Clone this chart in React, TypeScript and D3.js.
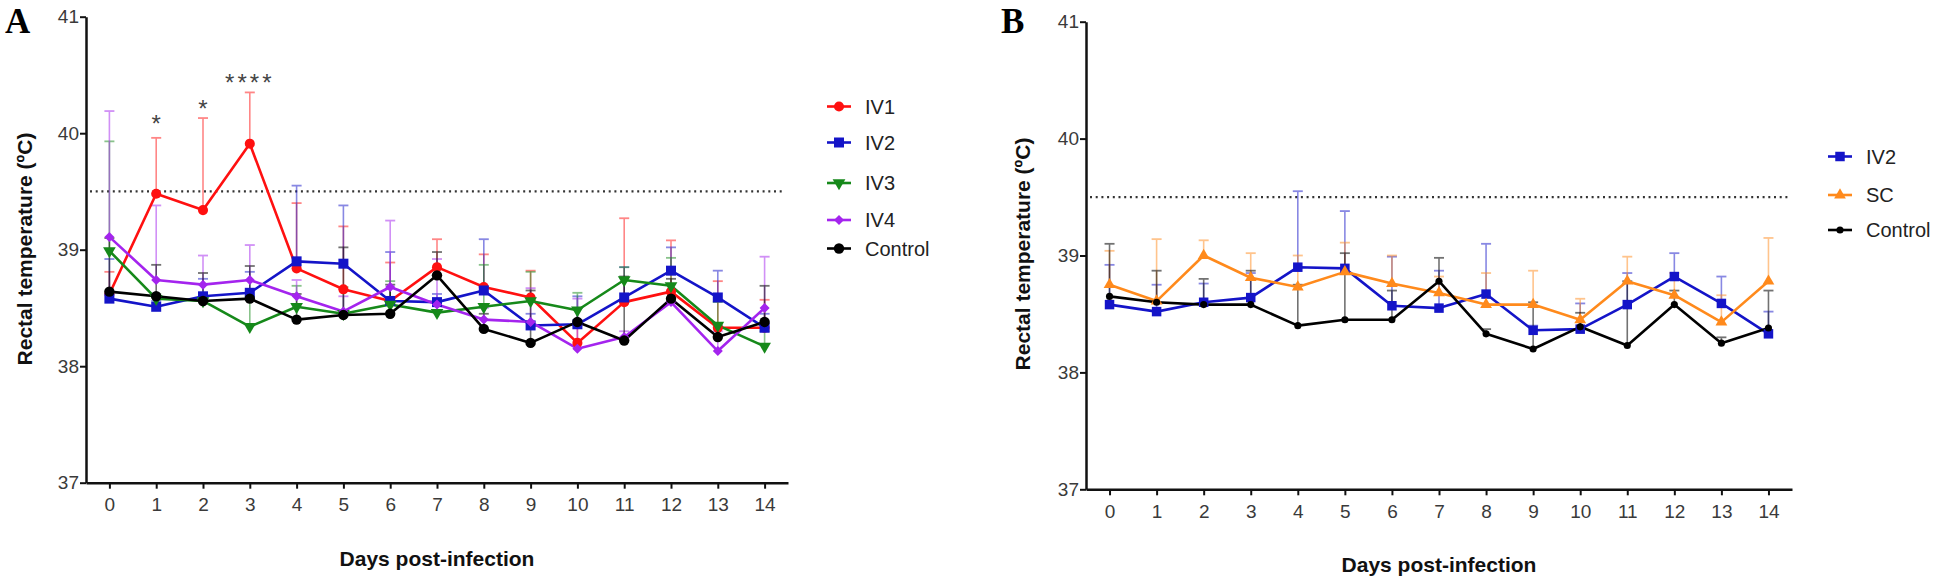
import React from 'react';
import * as d3 from 'd3';

const days = [0, 1, 2, 3, 4, 5, 6, 7, 8, 9, 10, 11, 12, 13, 14];
const yTicks = [37, 38, 39, 40, 41];
const threshold = 39.5;

// Panel A - means and upper SD limits
const iv1Mean = [38.62, 39.48, 39.34, 39.91, 38.84, 38.66, 38.56, 38.85, 38.68, 38.59, 38.2, 38.55, 38.64, 38.33, 38.33];
const iv1Upper = [38.81, 39.96, 40.13, 40.35, 39.4, 39.2, 38.89, 39.09, 38.96, 38.82, 38.35, 39.27, 39.08, 38.73, 38.57];
const iv2Mean = [38.58, 38.51, 38.6, 38.63, 38.9, 38.88, 38.56, 38.55, 38.65, 38.35, 38.36, 38.59, 38.82, 38.59, 38.33];
const iv2Upper = [38.92, 38.56, 38.75, 38.81, 39.55, 39.38, 38.98, 38.62, 39.09, 38.45, 38.6, 38.85, 39.02, 38.82, 38.45];
const iv3Mean = [38.99, 38.58, 38.56, 38.34, 38.51, 38.45, 38.53, 38.46, 38.51, 38.56, 38.48, 38.74, 38.69, 38.35, 38.17];
const iv3Upper = [39.93, 38.62, 38.6, 38.6, 38.69, 38.68, 38.73, 38.55, 38.87, 38.81, 38.63, 38.85, 38.93, 38.55, 38.3];
const iv4Mean = [39.11, 38.74, 38.7, 38.74, 38.6, 38.47, 38.68, 38.53, 38.4, 38.38, 38.15, 38.25, 38.55, 38.13, 38.5];
const iv4Upper = [40.19, 39.38, 38.95, 39.04, 38.74, 38.6, 39.25, 38.92, 38.5, 38.67, 38.58, 38.3, 38.65, 38.3, 38.94];
const ctrlAMean = [38.64, 38.6, 38.56, 38.58, 38.4, 38.44, 38.45, 38.78, 38.32, 38.2, 38.38, 38.22, 38.58, 38.25, 38.38];
const ctrlAUpper = [39.1, 38.87, 38.8, 38.86, 38.62, 39.02, 38.7, 38.98, 38.45, 38.65, 38.5, 38.77, 38.75, 38.35, 38.69];

// Panel B
const iv2BMean = [38.58, 38.52, 38.6, 38.64, 38.9, 38.89, 38.57, 38.55, 38.67, 38.36, 38.37, 38.58, 38.82, 38.59, 38.33];
const iv2BUpper = [38.92, 38.75, 38.76, 38.85, 39.55, 39.38, 38.99, 38.87, 39.1, 38.4, 38.59, 38.85, 39.02, 38.82, 38.52];
const scMean = [38.75, 38.61, 39.0, 38.81, 38.73, 38.86, 38.76, 38.68, 38.58, 38.58, 38.45, 38.78, 38.66, 38.43, 38.78];
const scUpper = [39.04, 39.14, 39.13, 39.02, 39.0, 39.11, 39.0, 38.82, 38.85, 38.87, 38.63, 38.99, 38.85, 38.66, 39.15];
const ctrlBMean = [38.65, 38.6, 38.58, 38.58, 38.4, 38.45, 38.45, 38.78, 38.33, 38.2, 38.39, 38.23, 38.58, 38.25, 38.38];
const ctrlBUpper = [39.1, 38.87, 38.8, 38.87, 38.75, 39.02, 38.7, 38.98, 38.37, 38.6, 38.51, 38.78, 38.7, 38.3, 38.7];

const stars = [
  { day: 1, label: '*' },
  { day: 2, label: '*' },
  { day: 3, label: '****' },
];

const FONT = '"Liberation Sans", Arial, sans-serif';

const panelA = {
  letter: 'A',
  left: 86, right: 788, top: 16.7, bottom: 482.7,
  letterX: 5, titleY: 566, yTitleX: 25, yTitleY: 249,
  legendX: 827, legendRows: [106.5, 142.5, 183, 220, 248.5],
  series: [
    { name: 'IV1', mean: iv1Mean, upper: iv1Upper, color: '#ff1010', sym: d3.symbolCircle, size: 80, rot: 0 },
    { name: 'IV2', mean: iv2Mean, upper: iv2Upper, color: '#1414c8', sym: d3.symbolSquare, size: 100, rot: 0 },
    { name: 'IV3', mean: iv3Mean, upper: iv3Upper, color: '#16891a', sym: d3.symbolTriangle, size: 70, rot: 180 },
    { name: 'IV4', mean: iv4Mean, upper: iv4Upper, color: '#a424ee', sym: d3.symbolSquare, size: 50, rot: 45 },
    { name: 'Control', mean: ctrlAMean, upper: ctrlAUpper, color: '#000000', sym: d3.symbolCircle, size: 85, rot: 0 },
  ],
};

const panelB = {
  letter: 'B',
  left: 1086, right: 1792, top: 21.7, bottom: 489.3,
  letterX: 1001, titleY: 572, yTitleX: 1023, yTitleY: 254,
  legendX: 1828, legendRows: [156.5, 195, 230],
  series: [
    { name: 'IV2', mean: iv2BMean, upper: iv2BUpper, color: '#1414c8', sym: d3.symbolSquare, size: 90, rot: 0 },
    { name: 'SC', mean: scMean, upper: scUpper, color: '#ff8a1c', sym: d3.symbolTriangle, size: 60, rot: 0 },
    { name: 'Control', mean: ctrlBMean, upper: ctrlBUpper, color: '#000000', sym: d3.symbolCircle, size: 40, rot: 0 },
  ],
};

const drawPanel = (svg, p, withStars) => {
  const x = d3.scaleLinear().domain([-0.5, 14.5]).range([p.left, p.right]);
  const y = d3.scaleLinear().domain([37, 41]).range([p.bottom, p.top]);
  const g = svg.append('g');

  // axes
  const ya = g.append('g')
    .attr('transform', `translate(${p.left},0)`)
    .call(d3.axisLeft(y).tickValues(yTicks).tickSize(6).tickSizeOuter(0).tickPadding(1).tickFormat(d3.format('d')));
  const xa = g.append('g')
    .attr('transform', `translate(0,${p.bottom})`)
    .call(d3.axisBottom(x).tickValues(days).tickSize(6).tickSizeOuter(0).tickPadding(9).tickFormat(d3.format('d')));
  [ya, xa].forEach(a => {
    a.select('.domain').attr('stroke', '#111').attr('stroke-width', 2.5);
    a.selectAll('.tick line').attr('stroke', '#111').attr('stroke-width', 2);
    a.selectAll('.tick text')
      .attr('fill', '#3a3a3a')
      .style('font-family', FONT)
      .style('font-size', '19px');
  });

  // threshold
  g.append('line')
    .attr('x1', p.left + 4).attr('x2', p.right - 4)
    .attr('y1', y(threshold)).attr('y2', y(threshold))
    .attr('stroke', '#333').attr('stroke-width', 2.2)
    .attr('stroke-dasharray', '2,3.7');

  // error bars (upper SD only)
  p.series.forEach(s => {
    const eb = g.append('g').attr('opacity', s.color === '#000000' ? 0.55 : 0.5);
    eb.selectAll('line.v').data(days).join('line')
      .attr('x1', d => x(d)).attr('x2', d => x(d))
      .attr('y1', d => y(s.mean[d])).attr('y2', d => y(s.upper[d]))
      .attr('stroke', s.color).attr('stroke-width', 1.6);
    eb.selectAll('line.c').data(days).join('line')
      .attr('x1', d => x(d) - 5).attr('x2', d => x(d) + 5)
      .attr('y1', d => y(s.upper[d])).attr('y2', d => y(s.upper[d]))
      .attr('stroke', s.color).attr('stroke-width', 1.8);
  });

  // lines
  const line = d3.line().x(d => x(d[0])).y(d => y(d[1]));
  p.series.forEach(s => {
    g.append('path')
      .attr('d', line(days.map(d => [d, s.mean[d]])))
      .attr('fill', 'none').attr('stroke', s.color).attr('stroke-width', 2.6)
      .attr('stroke-linejoin', 'round');
  });

  // markers
  p.series.forEach(s => {
    const sym = d3.symbol().type(s.sym).size(s.size);
    g.append('g').selectAll('path').data(days).join('path')
      .attr('d', sym())
      .attr('transform', d => `translate(${x(d)},${y(s.mean[d])}) rotate(${s.rot})`)
      .attr('fill', s.color);
  });

  // significance stars
  if (withStars) {
    const ref = p.series[0];
    g.selectAll('text.star').data(stars).join('text')
      .attr('x', d => x(d.day))
      .attr('y', d => y(ref.upper[d.day]) - (d.day === 1 ? 20 : 15) + 14)
      .attr('text-anchor', 'middle')
      .attr('fill', '#444')
      .style('font-family', FONT)
      .style('font-size', '24px')
      .style('letter-spacing', d => (d.label.length > 1 ? '3px' : '0px'))
      .text(d => d.label);
  }

  // legend
  p.series.forEach((s, i) => {
    const ly = p.legendRows[i];
    g.append('line')
      .attr('x1', p.legendX).attr('x2', p.legendX + 24)
      .attr('y1', ly).attr('y2', ly)
      .attr('stroke', s.color).attr('stroke-width', 2.6);
    g.append('path')
      .attr('d', d3.symbol().type(s.sym).size(s.size)())
      .attr('transform', `translate(${p.legendX + 12},${ly}) rotate(${s.rot})`)
      .attr('fill', s.color);
    g.append('text')
      .attr('x', p.legendX + 38).attr('y', ly + 7)
      .attr('fill', '#222')
      .style('font-family', FONT)
      .style('font-size', '20px')
      .text(s.name);
  });

  // titles
  g.append('text')
    .attr('x', (p.left + p.right) / 2).attr('y', p.titleY)
    .attr('text-anchor', 'middle')
    .attr('fill', '#111')
    .style('font-family', FONT).style('font-size', '21px').style('font-weight', 'bold')
    .text('Days post-infection');
  g.append('text')
    .attr('transform', `translate(${p.yTitleX + 7},${p.yTitleY}) rotate(-90)`)
    .attr('text-anchor', 'middle')
    .attr('fill', '#111')
    .style('font-family', FONT).style('font-size', '21px').style('font-weight', 'bold')
    .text('Rectal temperature (ºC)');
  g.append('text')
    .attr('x', p.letterX).attr('y', 33)
    .attr('fill', '#000')
    .style('font-family', '"Liberation Serif", "Times New Roman", serif')
    .style('font-size', '35px').style('font-weight', 'bold')
    .text(p.letter);
};

const App = () => {
  const svgRef = React.useRef(null);

  React.useEffect(() => {
    const svg = d3.select(svgRef.current);
    svg.selectAll('*').remove();
    svg.append('rect').attr('width', 1937).attr('height', 585).attr('fill', '#fff');
    drawPanel(svg, panelA, true);
    drawPanel(svg, panelB, false);
  }, []);

  return (
    <svg
      ref={svgRef}
      width={1937}
      height={585}
      style={{ position: 'absolute', left: 0, top: 0, display: 'block' }}
    />
  );
};

export default App;
